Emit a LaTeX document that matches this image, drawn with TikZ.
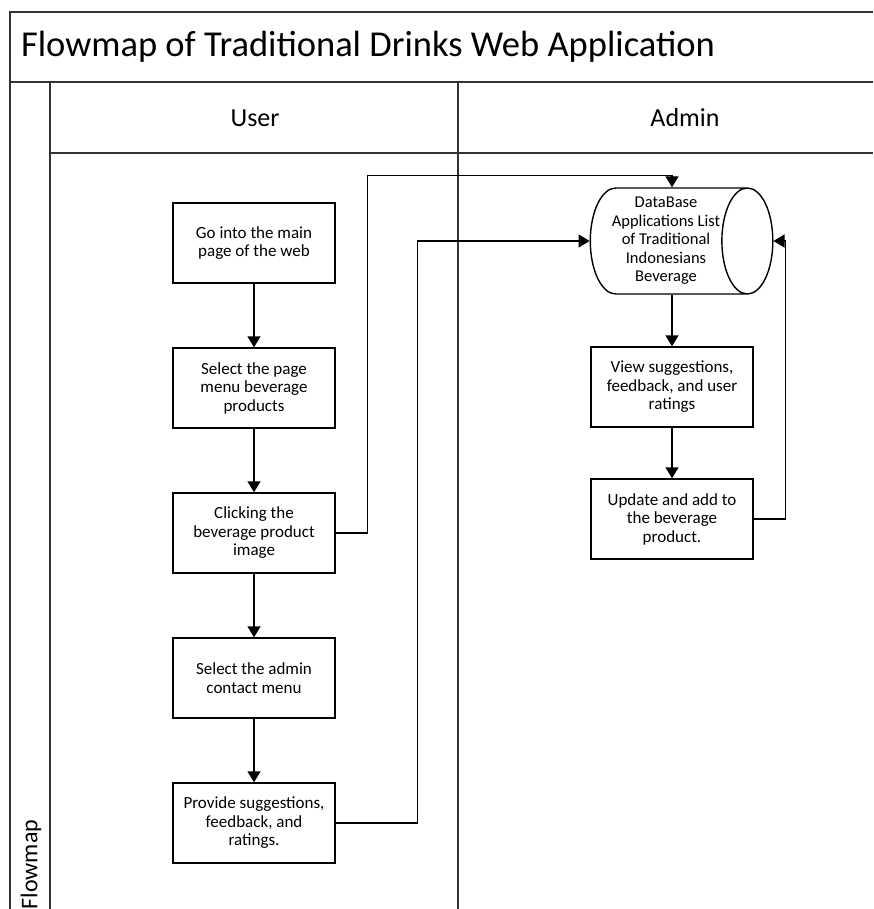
\documentclass[tikz,border=0pt]{standalone}
\usepackage{fontspec}
\setmainfont{Carlito}
\usetikzlibrary{arrows.meta,shapes.geometric}
\newcommand\D{145}
\newcommand\X{254}

\begin{document}
\begin{tikzpicture}[x=1pt,y=-1pt,->,>={Triangle[width=13pt,length=11pt]},
                    line width=1.4pt,font=\fontsize{17}{18.5}\selectfont]

  \tikzstyle{proc}=[rectangle,draw,align=center,minimum width=162pt,
                    minimum height=80pt,inner sep=2pt,line width=1.4pt]
  \tikzstyle{lane}=[-,draw=black!80,line width=1.3pt]

  \useasboundingbox (0,0) rectangle (873,909);

  % swimlane frame
  \draw[lane] (873,12) -| (10,909);
  \draw[lane] (10,82) -- (873,82);
  \draw[lane] (50,82) -- (50,909);
  \draw[lane] (50,153) -- (873,153);
  \draw[lane] (458,82) -- (458,909);

  \node[anchor=west,font=\fontsize{36.5}{40}\selectfont] (TTL) at (17,47)
       {Flowmap of Traditional Drinks Web Application};
  \node[font=\fontsize{26}{30}\selectfont] (USR) at (255,118) {User};
  \node[font=\fontsize{26}{30}\selectfont] (ADM) at (685,118) {Admin};
  \node[rotate=90,anchor=west,inner sep=0pt,font=\fontsize{24}{28}\selectfont]
       (FLM) at (31,910) {Flowmap};

  % user lane
  \node[proc] (MAIN) at (\X,243)      {Go into the main \\ page of the web};
  \node[proc] (MENU) at (\X,243+\D)   {Select the page \\ menu beverage \\ products};
  \node[proc] (CLK)  at (\X,243+2*\D) {Clicking the \\ beverage product \\ image};
  \node[proc] (CON)  at (\X,243+3*\D) {Select the admin \\ contact menu};
  \node[proc] (SUG)  at (\X,243+4*\D) {Provide suggestions, \\ feedback, and \\ ratings.};

  % admin lane
  \node[cylinder,draw,aspect=0.57,align=center,minimum width=106pt,
        minimum height=178pt,inner sep=1pt,font=\fontsize{16.5}{18.5}\selectfont]
       (DB) at (666,241)
       {DataBase \\ Applications List \\ of Traditional \\ Indonesians \\ Beverage};
  \node[proc] (VIEW) at (672,387) {View suggestions, \\ feedback, and user \\ ratings};
  \node[proc] (UPD)  at (672,519) {Update and add to \\ the beverage \\ product.};

  \draw (MAIN) -- (MENU);
  \draw (MENU) -- (CLK);
  \draw (CLK)  -- (CON);
  \draw (CON)  -- (SUG);
  \draw (VIEW |- DB.south) -- (VIEW);
  \draw (VIEW) -- (UPD);

  \draw (CLK.east) -- ++(32,0) |- ([yshift=12pt]VIEW |- DB.north) -- (VIEW |- DB.north);
  \draw (SUG.east) -- ++(82,0) |- (DB.west);
  \draw (UPD.east) -- ++(32,0) |- (DB.east);
\end{tikzpicture}
\end{document}
